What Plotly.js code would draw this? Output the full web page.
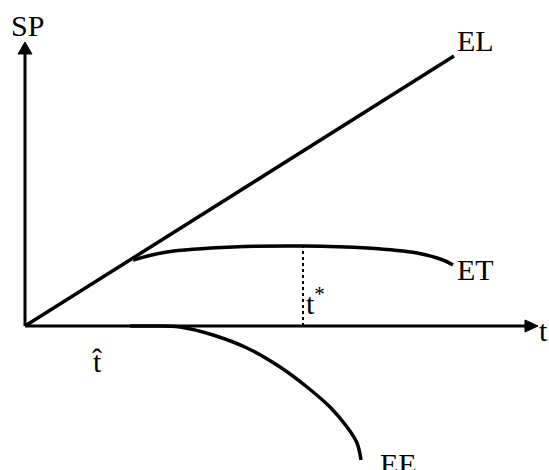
<!DOCTYPE html>
<html><head><meta charset="utf-8">
<script src="https://cdn.plot.ly/plotly-3.0.1.min.js"></script>
<style>html,body{margin:0;padding:0;background:#fff}</style>
</head><body>
<div id="chart" style="width:549px;height:470px"></div>
<script>
// Data (t from origin, SP from origin)
const elT = [0, 429];
const elSP = [0, 270];
const etT = [108, 142, 208, 278, 342, 392, 418, 428];
const etSP = [66, 74, 79, 80, 78, 73, 66, 61];
const eeT = [105, 125, 155, 188, 222, 255, 282, 305, 322, 332, 336];
const eeSP = [0, 0, -1, -9, -22, -41, -61, -81, -101, -117, -134];
const tStar = 278;
const tStarSP = [0, 80];
const tHat = 72;

const lineStyle = {color: '#000', width: 3.5};
const traces = [
  {x: elT, y: elSP, mode: 'lines', line: lineStyle, hoverinfo: 'skip'},
  {x: etT, y: etSP, mode: 'lines', line: Object.assign({shape: 'spline', smoothing: 1}, lineStyle), hoverinfo: 'skip'},
  {x: eeT, y: eeSP, mode: 'lines', line: Object.assign({shape: 'spline', smoothing: 1}, lineStyle), hoverinfo: 'skip'},
  {x: [tStar, tStar], y: tStarSP, mode: 'lines', line: {color: '#000', width: 2, dash: 'dot'}, hoverinfo: 'skip'}
];

const font = {family: 'Liberation Serif, Times New Roman, serif', size: 30, color: '#000'};
const ann = (x, y, text, xa, ya) => ({x, y, text, xref: 'x', yref: 'y', showarrow: false, xanchor: xa, yanchor: ya, font});

const layout = {
  width: 549, height: 470,
  margin: {l: 0, r: 0, t: 0, b: 0},
  paper_bgcolor: '#fff', plot_bgcolor: '#fff',
  showlegend: false,
  xaxis: {range: [-25, 524], visible: false, fixedrange: true},
  yaxis: {range: [-144, 326], visible: false, fixedrange: true},
  shapes: [
    {type: 'line', x0: 0, y0: 0, x1: 502, y1: 0, line: {color: '#000', width: 3}},
    {type: 'line', x0: 0, y0: 0, x1: 0, y1: 273, line: {color: '#000', width: 3}},
    {type: 'path', path: 'M 500 6 L 513 0 L 500 -6 Z', fillcolor: '#000', line: {color: '#000', width: 1}},
    {type: 'path', path: 'M -7 272 L 0 284 L 7 272 Z', fillcolor: '#000', line: {color: '#000', width: 1}}
  ],
  annotations: [
    ann(-16, 301, 'SP', 'left', 'middle'),
    ann(430, 286, 'EL', 'left', 'middle'),
    ann(430, 57, 'ET', 'left', 'middle'),
    ann(512, -4, 't', 'left', 'middle'),
    ann(279, 25, 't<sup>*</sup>', 'left', 'middle'),
    ann(tHat, -35, 't\u0302', 'center', 'middle'),
    ann(353, -137, 'EE', 'left', 'middle')
  ]
};

Plotly.newPlot('chart', traces, layout, {displayModeBar: false, staticPlot: true});
</script>
</body></html>
